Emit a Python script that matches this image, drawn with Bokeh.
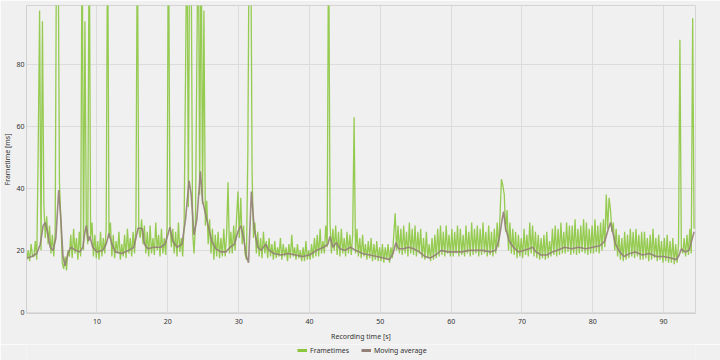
import numpy as np
from bokeh.plotting import figure
from bokeh.layouts import column
from bokeh.models import Range1d, FixedTicker, Legend, LegendItem, ColumnDataSource
from bokeh.embed import file_html
from bokeh.resources import INLINE

# ---- data ----
frametime_t0_s = 0.1
frametime_step_s = 0.2
frametime_ms = [
    17, 20, 16.5, 22, 18,
    18, 23, 17, 52, 97.5,
    20, 94, 35, 24, 31,
    22, 28, 19, 25, 18,
    26, 130, 130, 42, 30,
    16, 14, 18, 13.5, 20,
    18, 25, 17.5, 27, 19,
    24, 17, 26, 18, 130,
    20, 94, 27, 22, 130,
    24, 29, 18, 25, 17.5,
    23, 17, 26, 18, 24,
    19, 27, 130, 24, 29,
    18, 25, 17.5, 23, 19,
    26, 17, 22, 18, 25,
    17.5, 27, 19, 24, 18,
    26, 19, 28, 130, 27,
    24, 30, 22, 28, 19,
    26, 18, 28, 19, 24,
    18.5, 29, 20, 25, 18,
    27, 19, 24, 18.5, 28,
    130, 29, 21, 27, 19,
    26, 18, 29, 19.5, 24,
    18, 28, 76, 130, 34,
    130, 115, 26, 19, 28,
    81, 130, 38, 130, 35,
    97.5, 28, 36, 22, 30,
    19, 27, 17, 25, 18,
    26, 17.5, 24, 18, 27,
    18, 25, 42, 19, 26,
    19, 28, 20, 30, 39,
    24, 37, 22, 28, 19,
    17, 52, 130, 130, 45,
    24, 29, 19, 26, 18,
    24, 17.5, 26, 19, 23,
    17.5, 24, 18, 22, 17,
    23, 17.5, 21, 18, 24,
    17, 22, 18, 21, 16.5,
    22, 17.5, 25, 18, 21,
    17, 22, 17.5, 20, 16.5,
    21, 16.5, 23, 17, 20,
    17, 22, 17.5, 24, 18,
    25, 18, 27, 19, 23,
    19, 28, 21, 130, 29,
    19, 27, 20, 28, 18.5,
    26, 18, 27, 19, 24,
    18, 26, 19, 25, 18.5,
    25, 63, 19, 27, 18,
    24, 17.5, 25, 18, 22,
    17, 23, 17.5, 24, 16.5,
    22, 17, 23, 16.5, 21,
    16.5, 22, 16, 21, 17,
    22, 16, 21, 17.5, 25,
    32, 20, 28, 19, 27,
    18.5, 28, 19, 26, 18,
    29, 19, 27, 18.5, 28,
    18, 26, 19, 27, 17.5,
    24, 17, 26, 17.5, 22,
    16.5, 24, 17, 25, 17.5,
    27, 18, 28, 18.5, 26,
    18, 28, 19, 25, 18,
    27, 18, 26, 19, 28,
    18, 27, 18.5, 25, 18,
    28, 19, 26, 18, 29,
    18.5, 27, 19, 28, 18,
    27, 18.5, 29, 19, 26,
    18, 28, 18.5, 26, 18,
    27, 19, 29, 21, 31,
    43, 41, 38, 26, 33,
    20, 29, 19, 27, 18.5,
    26, 17.5, 25, 18, 24,
    17.5, 27, 18.5, 25, 18,
    29, 19, 28, 18, 26,
    17.5, 25, 17, 24, 17.5,
    25, 17, 26, 17.5, 23,
    18, 27, 18.5, 28, 18,
    27, 18.5, 29, 19, 26,
    19, 29, 19.5, 28, 18.5,
    28, 19, 30, 18.5, 27,
    19, 28, 19.5, 30, 19,
    29, 18.5, 27, 19, 28,
    19, 30, 19.5, 28, 19,
    29, 20, 30, 21, 38,
    27, 37, 33, 26, 29,
    20, 27, 18, 25, 17,
    24, 16.5, 26, 17, 25,
    17.5, 27, 18, 26, 17.5,
    27, 18, 25, 17, 26,
    17, 26, 17.5, 24, 16.5,
    25, 17, 27, 17.5, 24,
    16.5, 25, 17, 23, 16,
    24, 16.5, 25, 16, 23,
    16, 24, 15.5, 22, 16,
    22, 88, 21, 19, 24,
    18, 25, 18.5, 27, 19,
    95, 27,
]

ma_time_s = [
    0.1, 0.8, 1.5, 2.0, 2.4, 2.7, 3.0, 3.4, 3.8, 4.2, 4.6, 4.9, 5.2, 5.5, 5.9,
    6.3, 7.0, 7.6, 8.0, 8.3, 8.5, 8.8, 9.0, 9.4, 10.0, 10.8, 11.3, 11.7, 12.1,
    12.6, 13.5, 14.5, 15.2, 15.5, 15.8, 16.4, 16.7, 17.2, 18.0, 19.0, 19.6,
    20.0, 20.3, 20.7, 21.3, 22.0, 22.5, 23.0, 23.3, 23.7, 24.1, 24.6, 24.9,
    25.2, 25.7, 26.2, 26.8, 27.5, 28.2, 28.8, 29.4, 29.9, 30.3, 30.7, 31.1,
    31.4, 31.8, 32.2, 32.7, 33.2, 33.8, 34.3, 35.0, 36.0, 37.0, 38.0, 39.0,
    40.0, 41.0, 42.0, 42.6, 42.9, 43.3, 43.8, 44.3, 45.0, 45.8, 46.5, 47.5,
    48.5, 49.5, 50.5, 51.3, 51.8, 52.2, 52.6, 53.3, 54.0, 54.7, 55.5, 56.3,
    57.0, 57.8, 58.6, 59.5, 60.5, 61.5, 62.5, 63.5, 64.5, 65.5, 66.3, 66.8,
    67.2, 67.4, 67.7, 68.2, 68.8, 69.5, 70.3, 71.0, 71.5, 72.0, 72.7, 73.5,
    74.3, 75.0, 76.0, 77.0, 78.0, 79.0, 80.0, 81.0, 81.7, 82.2, 82.5, 82.8,
    83.2, 83.8, 84.4, 85.2, 86.0, 87.0, 88.0, 89.0, 90.0, 91.0, 91.8, 92.2,
    92.5, 93.0, 93.6, 94.3,
]
ma_ms = [
    17.5, 18, 19, 22, 28, 29, 26, 21, 20, 24, 39.5, 30, 18, 15, 19,
    21, 20, 19.5, 21, 26, 28, 23, 24.5, 21, 19.5, 20, 22, 25.5, 22,
    19.5, 19, 20, 21, 24, 27.2, 27, 22, 20.5, 21, 21, 22,
    25, 27.5, 23, 21, 22, 30, 42.5, 38, 25, 30, 45.5, 36,
    33, 28, 23, 20.5, 19.5, 19.5, 21, 22, 26, 28, 24, 18,
    16, 39, 27, 21, 20, 22, 20, 19, 18.5, 19, 18.5, 18,
    18.5, 20, 21, 22, 24.5, 21, 22.5, 20.5, 20, 21, 20, 19,
    18.5, 18, 17.5, 17, 19, 22.5, 20.5, 20.5, 21, 20.5, 19.5, 18,
    17.5, 18.5, 20, 19.5, 19.5, 19.5, 20, 20, 20, 19.5, 20, 24,
    30, 32.5, 27, 23, 21, 19.5, 20, 20.5, 21, 19.5, 18.5, 18.5,
    19.5, 20, 21, 20.5, 21, 20.5, 21, 21.5, 23, 27, 29, 26,
    22, 19.5, 18, 19, 19.5, 18.5, 19, 18, 18, 17.5, 17, 18.5,
    20.5, 19.5, 20, 26,
]

y_ticks = [0, 20, 40, 60, 80]
x_ticks = [10, 20, 30, 40, 50, 60, 70, 80, 90]
x_label = "Recording time [s]"
y_label = "Frametime [ms]"
series_names = ["Frametimes", "Moving average"]

# ---- build ----
ft_time = frametime_t0_s + frametime_step_s * np.arange(len(frametime_ms))
ft_src = ColumnDataSource(dict(t=ft_time, v=frametime_ms))
ma_src = ColumnDataSource(dict(t=ma_time_s, v=ma_ms))

BG = "#f0f0f0"
FONT = "Noto Sans"
FS = "7px"
TXT = "#333333"
FT_COLOR = "#8cc63f"
MA_COLOR = "#948078"

p = figure(width=720, height=344, output_backend="svg", toolbar_location=None,
           x_range=Range1d(0.05, 94.5), y_range=Range1d(-0.4, 99.1),
           min_border_left=26, min_border_right=25, min_border_top=5,
           min_border_bottom=31)
p.background_fill_color = BG
p.border_fill_color = BG
p.outline_line_color = "#d4d4d4"

p.line("t", "v", source=ft_src, color=FT_COLOR, line_width=1.3, line_alpha=0.9)
p.line("t", "v", source=ma_src, color=MA_COLOR, line_width=1.6, line_alpha=0.9)

p.xaxis.ticker = FixedTicker(ticks=x_ticks)
p.yaxis.ticker = FixedTicker(ticks=y_ticks)
for ax in (p.xaxis[0], p.yaxis[0]):
    ax.major_tick_line_color = None
    ax.minor_tick_line_color = None
    ax.major_tick_out = 0
    ax.major_tick_in = 0
    ax.axis_line_color = "#d0d0d0"
    ax.major_label_text_font = FONT
    ax.major_label_text_font_size = FS
    ax.major_label_text_color = TXT
    ax.axis_label_text_font = FONT
    ax.axis_label_text_font_size = FS
    ax.axis_label_text_font_style = "normal"
    ax.axis_label_text_color = TXT
    ax.major_label_standoff = 5
    ax.axis_label_standoff = 5
p.xaxis.axis_label = x_label
p.yaxis.axis_label = y_label
p.yaxis.major_label_standoff = 2
p.yaxis.axis_label_standoff = 1

p.xgrid.grid_line_color = "#dcdcdc"
p.ygrid.grid_line_color = "#dcdcdc"

# legend strip below the chart (its lines reuse the series, kept out of view)
lg = figure(width=720, height=16, output_backend="svg", toolbar_location=None,
            x_range=Range1d(0, 1), y_range=Range1d(0, 1), min_border=0)
lg.axis.visible = False
lg.axis.axis_line_color = None
lg.grid.visible = False
lg.outline_line_color = None
lg.background_fill_color = BG
lg.border_fill_color = BG
s_ft = lg.line("t", "v", source=ft_src, color=FT_COLOR, line_width=3)
s_ma = lg.line("t", "v", source=ma_src, color=MA_COLOR, line_width=3)
legend = Legend(items=[LegendItem(label=series_names[0], renderers=[s_ft]),
                       LegendItem(label=series_names[1], renderers=[s_ma])],
                orientation="horizontal", location=(271, 5),
                background_fill_alpha=0, border_line_color=None,
                label_text_font=FONT, label_text_font_size=FS,
                label_text_color=TXT,
                glyph_width=10, glyph_height=8, label_standoff=3, spacing=12,
                padding=0, margin=0, label_height=10)
lg.add_layout(legend, "center")

layout = column(p, lg, spacing=0)
open("out.html", "w").write(file_html(layout, INLINE))
